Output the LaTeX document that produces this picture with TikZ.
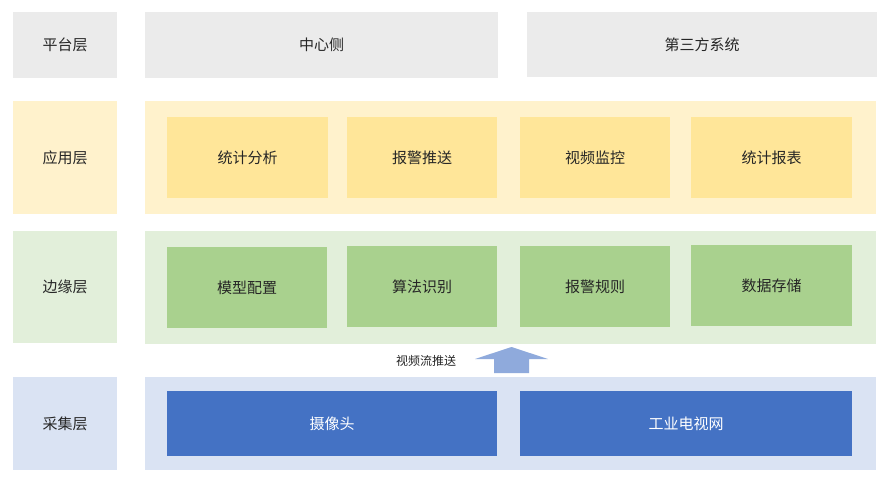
\documentclass[tikz,border=0pt]{standalone}
\usepackage{fontspec}
\setmainfont{Noto Sans CJK SC}
\begin{document}
\begin{tikzpicture}[x=1pt,y=-1pt,
  bx/.style={draw=none,fill=#1},
  lbl/.style={font=\fontsize{15}{18}\selectfont,text=black!85}]
\useasboundingbox (0,0) rectangle (886,479);
\fill[white] (0,0) rectangle (886,479);
\definecolor{g}{HTML}{EBEBEB}
\definecolor{yl}{HTML}{FFF2CC}\definecolor{yd}{HTML}{FFE699}
\definecolor{gl}{HTML}{E2EFDA}\definecolor{gd}{HTML}{A9D18E}
\definecolor{bl}{HTML}{DAE3F3}\definecolor{bd}{HTML}{4472C4}
\definecolor{ar}{HTML}{8FAADC}
\newcommand\bx[6]{\fill[#5] (#1,#2) rectangle (#3,#4); \node[lbl] at ({(#1+#3)/2},{(#2+#4)/2}) {#6};}
\newcommand\bw[5]{\fill[bd] (#1,#2) rectangle (#3,#4); \node[lbl,text=white] at ({(#1+#3)/2},{(#2+#4)/2}) {#5};}
% platform
\bx{13}{12}{117}{78}{g}{平台层}
\bx{145}{12}{498}{78}{g}{中心侧}
\bx{527}{12}{877}{77}{g}{第三方系统}
% application
\bx{13}{101}{117}{214}{yl}{应用层}
\fill[yl] (145,101) rectangle (876,214);
\bx{167}{117}{328}{198}{yd}{统计分析}
\bx{347}{117}{497}{198}{yd}{报警推送}
\bx{520}{117}{670}{198}{yd}{视频监控}
\bx{691}{117}{852}{198}{yd}{统计报表}
% edge
\bx{13}{231}{117}{343}{gl}{边缘层}
\fill[gl] (145,231) rectangle (876,344);
\bx{167}{247}{327}{328}{gd}{模型配置}
\bx{347}{246}{497}{327}{gd}{算法识别}
\bx{520}{246}{670}{327}{gd}{报警规则}
\bx{691}{245}{852}{326}{gd}{数据存储}
% arrow
\fill[ar] (475,359) -- (511.5,347) -- (548,359) -- (529,359) -- (529,373) -- (494,373) -- (494,359) -- cycle;
\node[font=\fontsize{12}{14}\selectfont,text=black!85] (vl) at (426,361) {视频流推送};
% capture
\bx{13}{377}{117}{470}{bl}{采集层}
\fill[bl] (145,377) rectangle (876,470);
\bw{167}{391}{497}{456}{摄像头}
\bw{520}{391}{852}{456}{工业电视网}
\end{tikzpicture}
\end{document}
